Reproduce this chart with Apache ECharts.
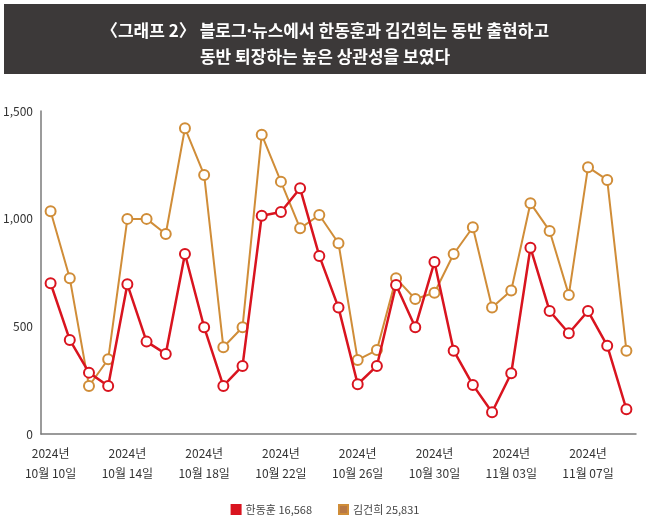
<!doctype html>
<html lang="ko">
<head>
<meta charset="utf-8">
<title>그래프 2</title>
<script src="https://cdn.jsdelivr.net/npm/echarts@6/dist/echarts.min.js"></script>
<style>
  html, body { margin: 0; padding: 0; background: #fff; }
  #main { width: 650px; height: 525px; }
</style>
</head>
<body>
<div id="main"></div>
<script>
// 2024년 10월 10일 ~ 11월 09일, 하루 단위
var dates = [
  '10-10', '10-11', '10-12', '10-13', '10-14', '10-15', '10-16', '10-17',
  '10-18', '10-19', '10-20', '10-21', '10-22', '10-23', '10-24', '10-25',
  '10-26', '10-27', '10-28', '10-29', '10-30', '10-31', '11-01', '11-02',
  '11-03', '11-04', '11-05', '11-06', '11-07', '11-08', '11-09'
];
var hanDonghoon = [700, 437, 285, 223, 695, 429, 372, 836, 496, 223, 316,
  1014, 1031, 1141, 827, 587, 231, 316, 692, 496, 799, 387, 228, 101, 282,
  865, 571, 468, 571, 410, 115];
var kimGeonhee = [1034, 723, 223, 347, 999, 999, 929, 1420, 1203, 403, 496,
  1390, 1172, 955, 1017, 886, 344, 390, 723, 627, 656, 836, 960, 587, 666,
  1072, 943, 646, 1239, 1180, 387];
var seriesNames = ['한동훈', '김건희'];
var seriesTotals = ['16,568', '25,831'];
var yTicks = [0, 500, 1000, 1500];

var FONT = '"Noto Sans CJK KR", "Noto Sans", sans-serif';
var RED = '#d9141f';
var GOLD = '#d08d38';

var myChart = echarts.init(document.getElementById('main'));

var option = {
  backgroundColor: '#fff',
  textStyle: { fontFamily: FONT },
  graphic: [{
    type: 'rect',
    z: 0,
    shape: { x: 4, y: 4, width: 642, height: 70 },
    style: { fill: '#3c3939' }
  }],
  title: {
    text: '〈그래프 2〉 블로그·뉴스에서 한동훈과 김건희는 동반 출현하고\n동반 퇴장하는 높은 상관성을 보였다',
    left: 'center',
    top: 13,
    z: 10,
    textStyle: {
      color: '#fff',
      fontFamily: FONT,
      fontSize: 17,
      fontWeight: 'bold',
      lineHeight: 26
    }
  },
  legend: {
    bottom: 5,
    left: 'center',
    icon: 'rect',
    itemWidth: 9,
    itemHeight: 9,
    itemGap: 26,
    selectedMode: false,
    data: [
      { name: seriesNames[0], itemStyle: { color: RED } },
      { name: seriesNames[1], itemStyle: { color: '#b87845' } }
    ],
    formatter: function (name) {
      return name + ' ' + seriesTotals[seriesNames.indexOf(name)];
    },
    textStyle: { color: '#444', fontSize: 11, fontFamily: FONT }
  },
  grid: { left: 41, right: 14, top: 111, bottom: 91 },
  xAxis: {
    type: 'category',
    data: dates,
    boundaryGap: true,
    axisTick: { show: false },
    axisLine: { lineStyle: { color: '#7a7a7a', width: 1.5 } },
    axisLabel: {
      interval: 3,
      margin: 9,
      color: '#333',
      fontSize: 12,
      lineHeight: 20,
      fontFamily: FONT,
      formatter: function (v) {
        var p = v.split('-');
        return '2024년\n' + Number(p[0]) + '월 ' + p[1] + '일';
      }
    }
  },
  yAxis: {
    type: 'value',
    min: yTicks[0],
    max: yTicks[yTicks.length - 1],
    interval: 500,
    splitLine: { show: false },
    axisTick: { show: false },
    axisLine: { show: true, lineStyle: { color: '#7a7a7a', width: 1.5 } },
    axisLabel: { color: '#333', fontSize: 12, margin: 8, fontFamily: FONT }
  },
  series: [
    {
      name: seriesNames[1],
      type: 'line',
      data: kimGeonhee,
      symbol: 'emptyCircle',
      symbolSize: 10,
      lineStyle: { color: GOLD, width: 2 },
      itemStyle: { color: GOLD, borderColor: GOLD, borderWidth: 2.5 },
      z: 2
    },
    {
      name: seriesNames[0],
      type: 'line',
      data: hanDonghoon,
      symbol: 'emptyCircle',
      symbolSize: 10,
      lineStyle: { color: RED, width: 2.5 },
      itemStyle: { color: RED, borderColor: RED, borderWidth: 2.5 },
      z: 3
    }
  ]
};

myChart.setOption(option);
</script>
</body>
</html>
